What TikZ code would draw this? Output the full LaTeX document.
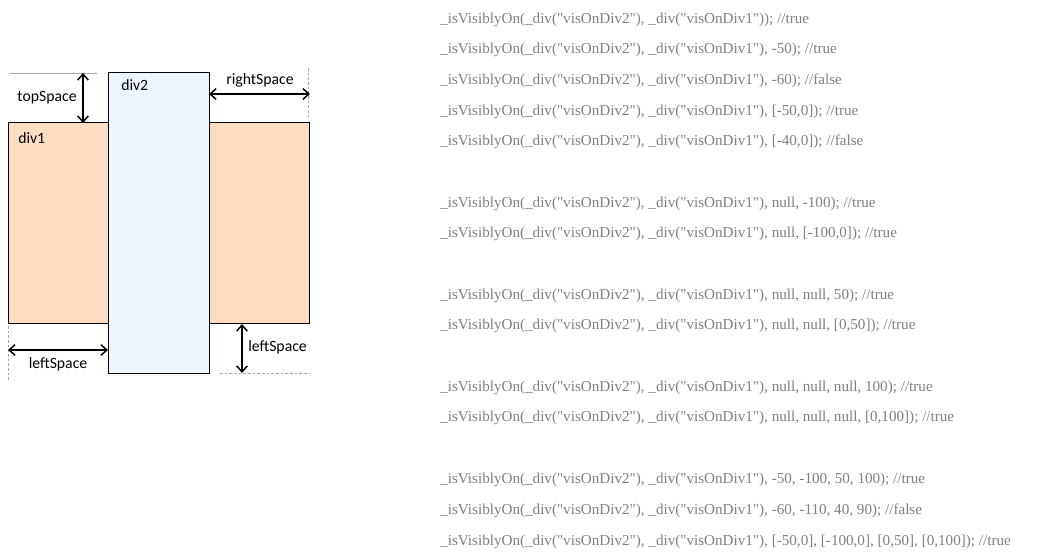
\documentclass[tikz,border=0pt]{standalone}
\usepackage{fontspec}
\setmainfont{Liberation Serif}
\newfontfamily\labelfont{Carlito}
\newfontfamily\codefont{Liberation Serif}[Ligatures=ResetAll]
\usetikzlibrary{arrows.meta}
\definecolor{peach}{HTML}{FDDDC1}
\definecolor{paleblue}{HTML}{EEF6FD}
\definecolor{codegray}{HTML}{808080}
\definecolor{guidegray}{HTML}{A6A6A6}
\tikzset{
  box/.style={draw=black, line width=0.75pt},
  dim/.style={line width=1.1pt, {Straight Barb[length=4.5pt,width=8pt]}-{Straight Barb[length=4.5pt,width=8pt]}},
  guide/.style={draw=guidegray, line width=0.5pt},
  guidedash/.style={draw=guidegray, line width=0.5pt, dash pattern=on 2pt off 1.5pt},
  lbl/.style={font=\labelfont\fontsize{11.8pt}{13pt}\selectfont, inner sep=0pt, text=black},
  code/.style={font=\codefont\fontsize{11.35pt}{13pt}\selectfont, text=codegray, anchor=west, inner sep=0pt, yshift=-1.5pt},
}
\newcommand\qq{\symbol{34}}
\begin{document}
\begin{tikzpicture}[x=0.75pt, y=-0.75pt]
\useasboundingbox (0,0) rectangle (1045,555);
% rectangles
\draw[box, fill=peach] (8,123) rectangle (309,324);
\draw[box, fill=paleblue] (108,73) rectangle (209,374);
\node[lbl, anchor=west] (div1) at (18,138) {div1};
\node[lbl, anchor=west] (div2) at (121,85) {div2};
% guides
\coordinate (tg1) at (10,73); \coordinate (tg2) at (97,73);
\draw[guide] (tg1) -- (tg2);
\coordinate (rg1) at (308,68); \coordinate (rg2) at (308,117);
\draw[guidedash] (rg1) -- (rg2);
\coordinate (lg1) at (8,326); \coordinate (lg2) at (8,382);
\draw[guidedash] (lg1) -- (lg2);
\coordinate (bg1) at (220,373); \coordinate (bg2) at (309,373);
\draw[guidedash] (bg1) -- (bg2);
% dimension arrows
\coordinate (ta) at (83,73); \coordinate (tb) at (83,123);
\draw[dim] (ta) -- (tb);
\node[lbl] (topSpace) at (47,98) {topSpace};
\coordinate (ra) at (209,94); \coordinate (rb) at (310,94);
\draw[dim] (ra) -- (rb);
\node[lbl] (rightSpace) at (260,80) {rightSpace};
\coordinate (la) at (8,350); \coordinate (lb) at (108,350);
\draw[dim] (la) -- (lb);
\node[lbl] (leftSpaceA) at (58,364) {leftSpace};
\coordinate (va) at (242,324); \coordinate (vb) at (242,373);
\draw[dim] (va) -- (vb);
\node[lbl, anchor=west] (leftSpaceB) at (248,347) {leftSpace};
% code lines
\node[code] (c1) at (440,18) {\_isVisiblyOn(\_div(\qq visOnDiv2\qq), \_div(\qq visOnDiv1\qq)); //true};
\node[code] (c2) at (440,48) {\_isVisiblyOn(\_div(\qq visOnDiv2\qq), \_div(\qq visOnDiv1\qq), -50); //true};
\node[code] (c3) at (440,79) {\_isVisiblyOn(\_div(\qq visOnDiv2\qq), \_div(\qq visOnDiv1\qq), -60); //false};
\node[code] (c4) at (440,110) {\_isVisiblyOn(\_div(\qq visOnDiv2\qq), \_div(\qq visOnDiv1\qq), [-50,0]); //true};
\node[code] (c5) at (440,140) {\_isVisiblyOn(\_div(\qq visOnDiv2\qq), \_div(\qq visOnDiv1\qq), [-40,0]); //false};
\node[code] (c6) at (440,202) {\_isVisiblyOn(\_div(\qq visOnDiv2\qq), \_div(\qq visOnDiv1\qq), null, -100); //true};
\node[code] (c7) at (440,232) {\_isVisiblyOn(\_div(\qq visOnDiv2\qq), \_div(\qq visOnDiv1\qq), null, [-100,0]); //true};
\node[code] (c8) at (440,294) {\_isVisiblyOn(\_div(\qq visOnDiv2\qq), \_div(\qq visOnDiv1\qq), null, null, 50); //true};
\node[code] (c9) at (440,324) {\_isVisiblyOn(\_div(\qq visOnDiv2\qq), \_div(\qq visOnDiv1\qq), null, null, [0,50]); //true};
\node[code] (c10) at (440,386) {\_isVisiblyOn(\_div(\qq visOnDiv2\qq), \_div(\qq visOnDiv1\qq), null, null, null, 100); //true};
\node[code] (c11) at (440,416) {\_isVisiblyOn(\_div(\qq visOnDiv2\qq), \_div(\qq visOnDiv1\qq), null, null, null, [0,100]); //true};
\node[code] (c12) at (440,478) {\_isVisiblyOn(\_div(\qq visOnDiv2\qq), \_div(\qq visOnDiv1\qq), -50, -100, 50, 100); //true};
\node[code] (c13) at (440,509) {\_isVisiblyOn(\_div(\qq visOnDiv2\qq), \_div(\qq visOnDiv1\qq), -60, -110, 40, 90); //false};
\node[code] (c14) at (440,540) {\_isVisiblyOn(\_div(\qq visOnDiv2\qq), \_div(\qq visOnDiv1\qq), [-50,0], [-100,0], [0,50], [0,100]); //true};
\end{tikzpicture}
\end{document}
